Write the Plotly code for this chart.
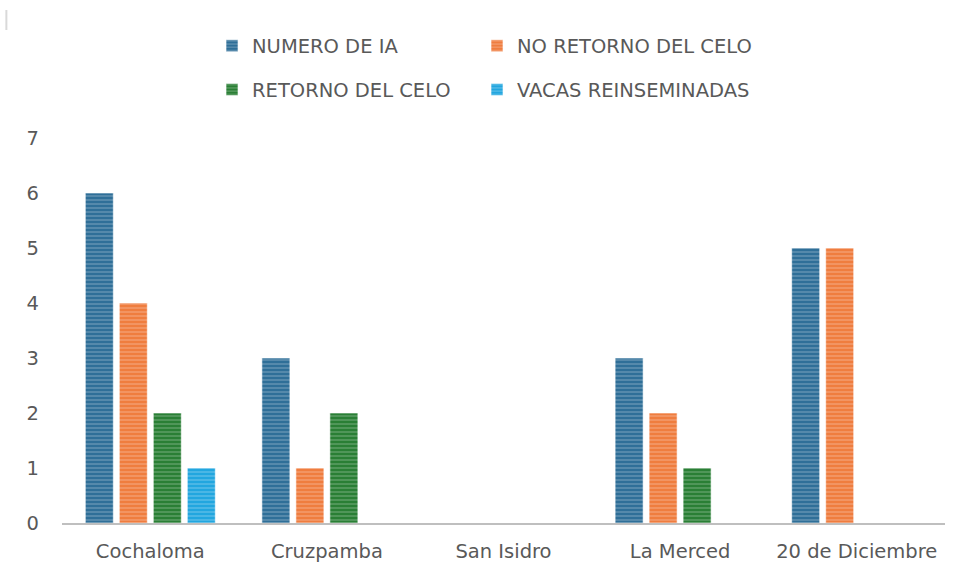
import plotly.graph_objects as go

categories = ["Cochaloma", "Cruzpamba", "San Isidro", "La Merced", "20 de Diciembre"]
numero_ia = [6, 3, 0, 3, 5]
no_retorno = [4, 1, 0, 2, 5]
retorno = [2, 2, 0, 1, 0]
reinseminadas = [1, 0, 0, 0, 0]

series = [
    ("NUMERO DE IA", numero_ia, "#2f6f98", "legend", 0.1699, 1.239),
    ("NO RETORNO DEL CELO", no_retorno, "#ef7d3f", "legend2", 0.4700, 1.239),
    ("RETORNO DEL CELO", retorno, "#2a7f35", "legend3", 0.1699, 1.125),
    ("VACAS REINSEMINADAS", reinseminadas, "#22a6df", "legend4", 0.4700, 1.125),
]

font_color = "#595959"
fam = "DejaVu Sans, Roboto, Arial, sans-serif"
fs = 19.5

fig = go.Figure()
legends = {}
for name, vals, col, lg, lx, ly in series:
    fig.add_trace(go.Bar(
        x=categories, y=vals, name=name, legend=lg, showlegend=True,
        marker=dict(color=col,
                    line=dict(color="rgba(255,255,255,0.6)", width=1),
                    pattern=dict(shape="-", fgcolor="rgba(255,255,255,0.45)",
                                 bgcolor=col, size=4, solidity=0.4,
                                 fillmode="overlay")),
    ))
    legends[lg] = dict(orientation="h", x=lx, y=ly, xanchor="left", yanchor="middle",
                       itemwidth=30, font=dict(size=fs, color=font_color),
                       bgcolor="rgba(0,0,0,0)")

fig.update_layout(
    width=960, height=578,
    showlegend=True,
    margin=dict(l=62, r=15, t=138, b=55),
    plot_bgcolor="white", paper_bgcolor="white",
    barmode="group", bargap=0.23, bargroupgap=0.176,
    font=dict(family=fam, size=fs, color=font_color),
    xaxis=dict(showline=True, linecolor="#bfbfbf", linewidth=2, ticks="",
               tickfont=dict(size=fs, color=font_color), showgrid=False,
               ticklabelstandoff=10),
    yaxis=dict(range=[0, 7], dtick=1, showgrid=False, showline=False, zeroline=False,
               tickfont=dict(size=fs, color=font_color), ticklabelstandoff=22),
    shapes=[dict(type="line", xref="paper", yref="paper", x0=-0.063, x1=-0.063,
                 y0=(578 - 55 - 10) / 385, y1=(578 - 55 - 30) / 385,
                 line=dict(color="#d9d9d9", width=2))],
    **legends,
)
fig.write_html("out.html", config={"displayModeBar": False},
               post_script="document.body.style.margin='0';")
